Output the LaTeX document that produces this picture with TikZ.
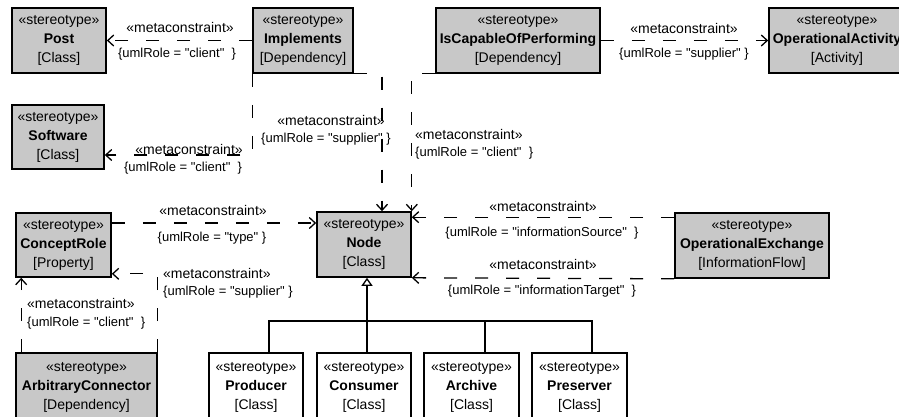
\documentclass[tikz,border=0pt]{standalone}
\usepackage{fontspec}
\setmainfont{Liberation Sans}[Ligatures=TeXOff]
\usetikzlibrary{arrows.meta}
\definecolor{boxgray}{RGB}{200,200,200}
\begin{document}
\begin{tikzpicture}[x=1pt,y=-1pt,
  stbox/.style={draw, line width=1.6pt, fill=boxgray, inner sep=0pt, align=center,
    font=\fontsize{14}{19}\selectfont, minimum height=65pt},
  subbox/.style={stbox, fill=white},
  mc/.style={line width=1.3pt, dash pattern=on 13pt off 18pt,
    -{Straight Barb[length=6pt,width=11pt]}},
  mclab/.style={font=\fontsize{14}{16}\selectfont, inner sep=0pt, text height=10pt, text depth=3pt},
  rolelab/.style={font=\fontsize{13}{15}\selectfont, inner sep=0pt, text height=10pt, text depth=3pt},
  gen/.style={line width=1.3pt}
]
\useasboundingbox (0,0) rectangle (899,416);
\clip (0,0) rectangle (899,416);

% stereotype boxes
\node[stbox, minimum width=94pt]  (post)     at (59,40.5)   {«stereotype»\\\textbf{Post}\\{[Class]}};
\node[stbox, minimum width=100pt] (impl)     at (303,40.5)  {«stereotype»\\\textbf{Implements}\\{[Dependency]}};
\node[stbox, minimum width=164pt] (capable)  at (518,40.5)  {«stereotype»\\\textbf{IsCapableOfPerforming}\\{[Dependency]}};
\node[stbox, minimum width=136pt] (opact)    at (837,40.5)  {«stereotype»\\\textbf{OperationalActivity}\\{[Activity]}};
\node[stbox, minimum width=92pt, minimum height=64pt] (software) at (58,137) {«stereotype»\\\textbf{Software}\\{[Class]}};
\node[stbox, minimum width=95pt, minimum height=64pt] (crole)    at (63.5,245) {«stereotype»\\\textbf{ConceptRole}\\{[Property]}};
\node[stbox, minimum width=94pt]  (node)     at (364,244.5) {«stereotype»\\\textbf{Node}\\{[Class]}};
\node[stbox, minimum width=154pt] (opex)     at (752,245.5) {«stereotype»\\\textbf{OperationalExchange}\\{[InformationFlow]}};
\node[stbox, minimum width=141pt, minimum height=68pt] (arbconn) at (86.5,387) {«stereotype»\\\textbf{ArbitraryConnector}\\{[Dependency]}};

% specialisations of Node
\node[subbox, minimum width=94pt, minimum height=68pt] (producer)  at (256,387)   {«stereotype»\\\textbf{Producer}\\{[Class]}};
\node[subbox, minimum width=94pt, minimum height=68pt] (consumer)  at (364,387)   {«stereotype»\\\textbf{Consumer}\\{[Class]}};
\node[subbox, minimum width=95pt, minimum height=68pt] (archive)   at (471.5,387) {«stereotype»\\\textbf{Archive}\\{[Class]}};
\node[subbox, minimum width=95pt, minimum height=68pt] (preserver) at (579.5,387) {«stereotype»\\\textbf{Preserver}\\{[Class]}};

% generalisation tree
\coordinate (bus) at (367,321);
\draw[gen] ([xshift=13pt]producer.north) |- (bus) -| ([xshift=12.5pt]preserver.north);
\draw[gen] ([xshift=3pt]consumer.north) -- (bus);
\draw[gen] ([xshift=13.5pt]archive.north) -- ++(0,-32);
\draw[gen, -{Triangle[open, length=8pt, width=11pt]}] (bus) -- ([xshift=3pt]node.south);

% metaconstraints
\draw[mc] (impl.west) -- (post.east);
\draw[mc] (capable.east) -- (opact.west);
\draw[mc] (impl.south east) -| ([xshift=18pt]node.north);
\draw[mc] (capable.south west) -| (node.north east);
\draw[mc] (impl.south west) |- ([yshift=-18pt]software.east);
\draw[mc] ([yshift=22pt]crole.east) -- ([yshift=21.5pt]node.west);
\draw[mc] ([yshift=-5pt]opex.north west) -- ([yshift=-6pt]node.north east);
\draw[mc] (opex.south west) -- (node.south east);
\draw[mc] (arbconn.north east) |- ([yshift=4pt]crole.south east);
\draw[mc] ([xshift=6pt]arbconn.north west) -- ([xshift=6pt]crole.south west);

% constraint labels
\node[mclab]   (m1) at (180,29)  {«metaconstraint»};
\node[rolelab] (r1) at (177,54)  {\{umlRole = "client"\ \ \}};
\node[mclab]   (m2) at (684,30)  {«metaconstraint»};
\node[rolelab] (r2) at (684,54)  {\{umlRole = "supplier"\ \}};
\node[mclab]   (m3) at (331,122) {«metaconstraint»};
\node[rolelab] (r3) at (326,139) {\{umlRole = "supplier"\ \}};
\node[mclab, anchor=west]   (m4) at (415,136) {«metaconstraint»};
\node[rolelab, anchor=west] (r4) at (415,153) {\{umlRole = "client"\ \ \}};
\node[mclab]   (m5) at (189,150.5) {«metaconstraint»};
\node[rolelab] (r5) at (183,168) {\{umlRole = "client"\ \ \}};
\node[mclab]   (m6) at (213,212) {«metaconstraint»};
\node[rolelab] (r6) at (212,238) {\{umlRole = "type"\ \}};
\node[mclab]   (m7) at (543,208) {«metaconstraint»};
\node[rolelab] (r7) at (542,233) {\{umlRole = "informationSource"\ \ \}};
\node[mclab]   (m8) at (543,266) {«metaconstraint»};
\node[rolelab] (r8) at (542,291) {\{umlRole = "informationTarget"\ \ \}};
\node[mclab, anchor=west]   (m9) at (163,275) {«metaconstraint»};
\node[rolelab, anchor=west] (r9) at (163,292) {\{umlRole = "supplier"\ \}};
\node[mclab, anchor=west]   (m10) at (27,305) {«metaconstraint»};
\node[rolelab, anchor=west] (r10) at (27,323) {\{umlRole = "client"\ \ \}};
\end{tikzpicture}
\end{document}
